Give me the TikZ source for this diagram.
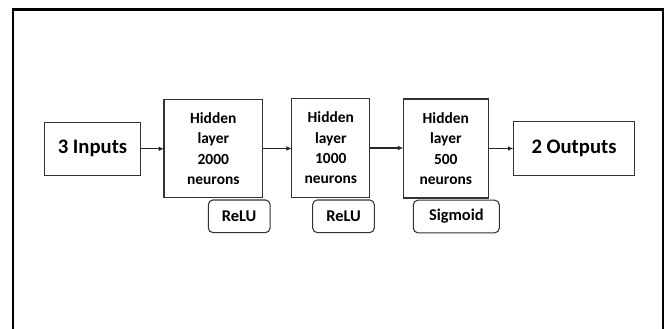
\documentclass[tikz,border=0pt]{standalone}
\usepackage{fontspec}
\setmainfont{Carlito}
\usetikzlibrary{arrows.meta}
\begin{document}
\begin{tikzpicture}[x=0.75pt,y=-0.75pt,
  box/.style={draw=black!80,line width=0.8pt,inner sep=0pt,outer sep=0pt,align=center,font=\bfseries},
  big/.style={box,font=\fontsize{15.5}{18}\selectfont\bfseries},
  hid/.style={box,font=\fontsize{11.6}{15.2}\selectfont\bfseries},
  act/.style={box,rounded corners=3.5pt,minimum height=24.5pt,font=\fontsize{12.3}{14}\selectfont\bfseries},
  arr/.style={draw=black!85,line width=0.8pt,-{Latex[length=4pt,width=3.6pt]}}]
\useasboundingbox (0,0) rectangle (666,328);
\draw[line width=1.6pt] (12.7,330) -- (12.7,9.5) -- (662.7,9.5) -- (662.7,330);
\node[big,minimum width=72.3pt,minimum height=39.75pt] (in) at (92.5,148.8) {3 Inputs};
\node[hid,minimum width=74pt,minimum height=73.8pt] (h1) at (213.3,148.5) {Hidden\\layer\\2000\\neurons};
\node[hid,minimum width=58.7pt,minimum height=74.5pt] (h2) at (330.8,148) {Hidden\\layer\\1000\\neurons};
\node[hid,minimum width=63.75pt,minimum height=74.25pt] (h3) at (445.8,148.5) {Hidden\\layer\\500\\neurons};
\node[big,minimum width=91pt,minimum height=40.2pt] (out) at (574,148.5) {2 Outputs};
\node[act,minimum width=46.3pt] (a1) at (239.2,216.3) {ReLU};
\node[act,minimum width=46.2pt] (a2) at (343.5,216.3) {ReLU};
\node[act,minimum width=64.5pt] (a3) at (456.3,216.5) {Sigmoid};
\draw[arr] (in.east) -- (in.east -| h1.west);
\draw[arr] (h1.east) -- (h1.east -| h2.west);
\draw[arr] (h2.east) -- (h2.east -| h3.west);
\draw[arr] (h3.east) -- (h3.east -| out.west);
\end{tikzpicture}
\end{document}
